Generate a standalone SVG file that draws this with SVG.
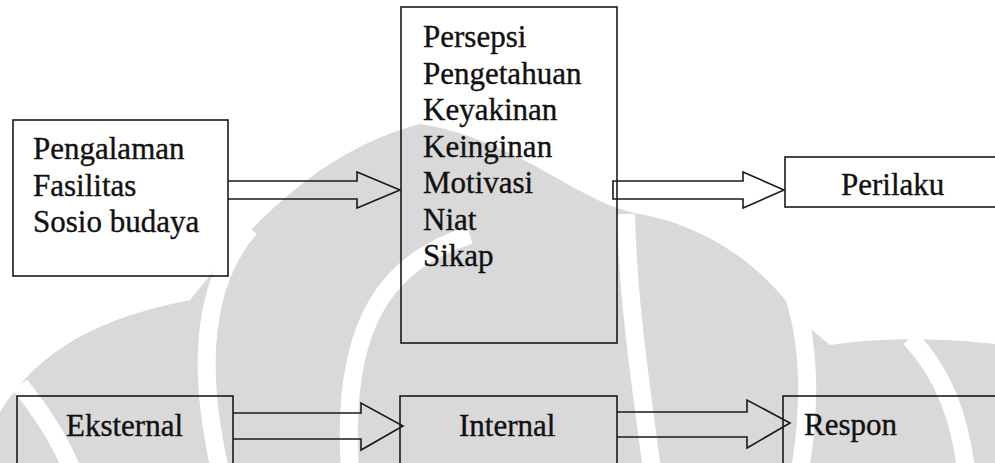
<svg xmlns="http://www.w3.org/2000/svg" width="995" height="463" viewBox="0 0 995 463">
  <style>
    .box { fill: none; stroke: #1a1a1a; stroke-width: 1.6; }
    .arrow { fill: none; stroke: #1a1a1a; stroke-width: 1.6; stroke-linejoin: miter; }
    .label { font-family: "Liberation Serif", "Times New Roman", serif; font-size: 31px; fill: #111111; stroke: #111111; stroke-width: 0.35; }
    .mark { fill: #d9d9d9; }
    .gap { fill: none; stroke: #ffffff; stroke-width: 18; }
  </style>

  <rect x="0" y="0" width="995" height="463" fill="#ffffff"/>

  <!-- faint background emblem -->
  <g id="emblem">
    <path class="mark" d="M -10,430 C 30,350 100,318 190,300 C 250,225 320,150 420,124 C 520,140 580,205 640,214 C 700,225 760,260 800,320 L 830,345 C 900,335 960,340 1005,345 L 1005,470 L -10,470 Z"/>
    <path class="gap" d="M 250,228 C 205,280 195,360 220,470"/>
    <path class="gap" d="M 470,235 C 390,260 340,320 350,470"/>
    <path class="gap" d="M 626,214 C 628,300 640,380 652,470"/>
    <path class="gap" d="M 795,300 C 808,340 812,400 800,470"/>
    <path class="gap" d="M 910,338 C 945,375 960,420 966,470"/>
    <path class="gap" d="M 20,385 C 40,410 60,440 72,470"/>
  </g>

  <g id="connectors">
    <path class="arrow" d="M 228,181 L 357,181 L 357,172 L 400,190 L 357,208 L 357,199 L 228,199"/>
    <path class="arrow" d="M 613,181 L 743,181 L 743,172 L 784,190 L 743,208 L 743,199 L 613,199 Z"/>
    <path class="arrow" d="M 233,413 L 361,413 L 361,403 L 403,426 L 361,450 L 361,439 L 233,439"/>
    <path class="arrow" d="M 617,412 L 747,412 L 747,400 L 790,423 L 747,448 L 747,437 L 617,437"/>
  </g>

  <g id="faktor">
    <rect class="box" x="13" y="120" width="215" height="156"/>
    <text class="label" x="33" y="159">Pengalaman</text>
    <text class="label" x="33" y="196">Fasilitas</text>
    <text class="label" x="33" y="232">Sosio budaya</text>
  </g>

  <g id="internal-faktor">
    <rect class="box" x="401" y="7" width="216" height="336"/>
    <text class="label" x="423" y="47">Persepsi</text>
    <text class="label" x="423" y="83.5">Pengetahuan</text>
    <text class="label" x="423" y="120">Keyakinan</text>
    <text class="label" x="423" y="156.5">Keinginan</text>
    <text class="label" x="423" y="193">Motivasi</text>
    <text class="label" x="423" y="229.5">Niat</text>
    <text class="label" x="423" y="266">Sikap</text>
  </g>

  <g id="perilaku">
    <rect class="box" x="785" y="157" width="230" height="50"/>
    <text class="label" x="841" y="195">Perilaku</text>
  </g>

  <g id="eksternal">
    <rect class="box" x="17" y="396" width="216" height="100"/>
    <text class="label" x="66" y="436">Eksternal</text>
  </g>

  <g id="internal">
    <rect class="box" x="400" y="396" width="217" height="100"/>
    <text class="label" x="459" y="436">Internal</text>
  </g>

  <g id="respon">
    <rect class="box" x="783" y="396" width="230" height="100"/>
    <text class="label" x="804" y="435">Respon</text>
  </g>
</svg>
